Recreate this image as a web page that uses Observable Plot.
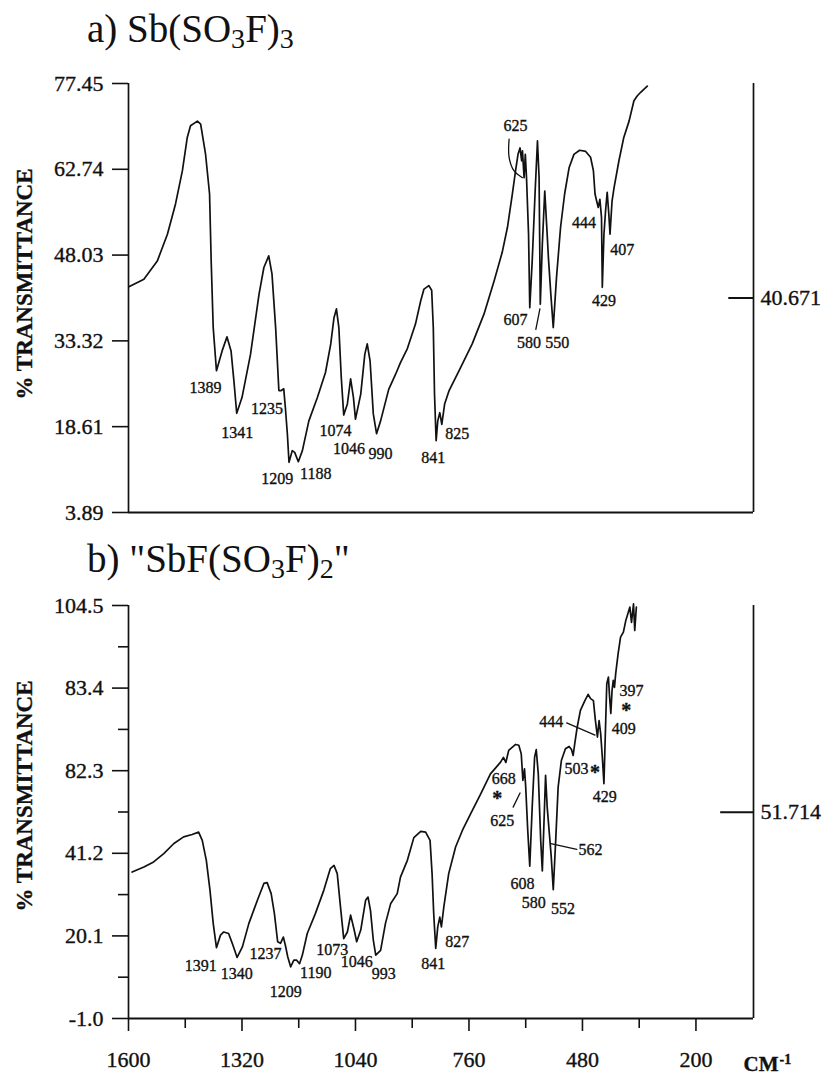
<!DOCTYPE html>
<html><head><meta charset="utf-8">
<script src="https://cdn.jsdelivr.net/npm/d3@7"></script>
<script src="https://cdn.jsdelivr.net/npm/@observablehq/plot@0.6"></script>
<style>
body{margin:0;background:#fff;}
#wrap{position:relative;width:824px;height:1082px;overflow:hidden;background:#fff;font-family:"Liberation Serif","DejaVu Serif",serif;color:#111;}
.title{position:absolute;left:87px;font-size:39px;line-height:1;white-space:nowrap;}
.title .s{font-size:0.72em;vertical-align:-0.2em;}
#ta{top:9px;}
#tb{top:539px;}
#pa{position:absolute;left:0;top:60px;}
#pb{position:absolute;left:0;top:585px;}
</style></head><body>
<div id="wrap">
<div class="title" id="ta">a) Sb(SO<span class="s">3</span>F)<span class="s">3</span></div>
<div class="title" id="tb">b) "SbF(SO<span class="s">3</span>F)<span class="s">2</span>"</div>
<div id="pa"></div><div id="pb"></div>
</div>
<script>
// ---------- axes ----------
const xDomain = [1600, 58];
const xMajorTicks = [1600, 1320, 1040, 760, 480, 200];
const xMinorTicks = [1460, 1180, 900, 620, 340];

const aTicks = [77.45, 62.74, 48.03, 33.32, 18.61, 3.89];
const aTickLabels = ["77.45", "62.74", "48.03", "33.32", "18.61", "3.89"];
const bTicks = [104.5, 83.4, 62.3, 41.2, 20.1, -1.0];
const bTickLabels = ["104.5", "83.4", "82.3", "41.2", "20.1", "-1.0"];
const bMinorTicks = [93.95, 72.85, 51.75, 30.65, 9.55];

// ---------- spectrum a) Sb(SO3F)3 ----------
const aWn = [1599,1562,1529,1504,1484,1467,1455,1447,1430,1422,
  1410,1400,1396,1391,1383,1369,1357,1347,1340,1333,
  1320,1299,1278,1266,1254,1246,1237,1229,1223,1217,
  1213,1208,1204,1196,1190,1181,1171,1155,1134,1114,
  1101,1093,1087,1081,1075,1069,1060,1052,1045,1040,
  1027,1017,1011,1004,996,988,978,958,941,929,
  912,892,879,871,859,852,848,845,841,837,
  832,827,820,809,781,752,723,698,678,665,
  653,645,639,634,630,628,624,621,618,613,
  610,604,597,591,587,584,579,573,568,564,
  558,552,544,534,524,513,501,487,472,460,
  453,449,445,441,437,433,431,427,423,419,
  415,412,407,402,390,378,365,353,345,337,
  328,320];
const aT = [42.6,43.9,47.0,51.6,56.8,62.5,68.2,70.2,71.0,70.5,
  65.4,58.5,47.0,35.6,28.2,31.6,34.0,31.6,26.5,20.9,
  23.6,31.0,41.3,45.9,47.9,44.8,35.6,24.8,24.8,25.1,
  21.9,17.3,12.5,14.5,14.2,12.6,14.5,19.6,23.6,27.9,
  32.8,37.3,38.8,35.6,27.0,20.6,22.5,26.8,23.6,19.9,
  24.2,31.0,32.8,29.9,20.8,17.4,19.6,25.0,27.6,29.6,
  32.0,36.2,40.2,42.2,42.8,42.0,35.6,24.2,16.2,19.6,
  21.0,19.0,22.5,24.8,28.7,32.8,37.9,43.6,48.5,52.8,
  58.5,62.5,65.3,66.4,64.2,65.9,61.3,65.3,61.3,51.6,
  39.0,47.0,58.5,67.6,61.3,39.6,49.9,59.0,52.8,47.6,
  41.3,35.6,44.2,52.8,58.5,63.0,65.3,66.0,65.8,64.8,
  62.5,58.5,57.3,56.2,57.6,54.5,42.5,51.6,55.6,58.8,
  55.1,51.6,57.3,59.6,64.2,68.2,71.0,74.5,75.3,75.9,
  76.5,77.0];

const aLabText = ["1389","1341","1235","1209","1188","1074","1046","990","841","825","625","607","580","550","444","407","429"];
const aLabWn = [1410,1332,1258,1233,1138,1089,1056,978,848,789,645,645,612,542,476,382,427];
const aLabT = [25.2,17.6,21.6,9.6,10.5,17.9,14.8,13.9,13.3,17.3,70.2,37.0,33.0,32.9,53.5,49.0,40.1];

const aLeaderId = ["625","625","625","625","580","580"];
const aLeaderWn = [661,661,649,628,585,595];
const aLeaderT = [67.9,64.8,62.5,61.3,38.8,35.3];

const aMarker = 40.671;
const aMarkerFrom = 119;

// ---------- spectrum b) "SbF(SO3F)2" ----------
const bWn = [1591,1562,1538,1513,1488,1464,1443,1427,1418,1408,
  1399,1391,1383,1373,1365,1353,1344,1332,1319,1303,
  1282,1266,1258,1248,1240,1232,1225,1218,1213,1207,
  1200,1192,1185,1178,1171,1159,1139,1118,1102,1093,
  1085,1077,1069,1060,1052,1044,1037,1027,1015,1009,
  1003,996,990,978,966,953,937,929,912,896,
  879,867,856,851,847,842,837,832,828,822,
  810,793,776,756,731,707,682,675,669,662,
  645,637,631,627,623,620,615,610,604,598,
  594,589,583,579,575,571,567,561,557,552,
  546,540,532,522,513,507,503,499,493,485,
  474,466,460,453,448,443,439,435,431,427,
  424,420,416,413,410,407,404,401,398,392,
  386,379,373,368,363,359,354,351,347];
const bT = [36.4,37.7,39.0,41.1,43.7,45.4,46.0,46.6,44.5,39.4,
  31.8,23.3,17.1,20.3,21.1,20.7,18.2,14.6,17.3,23.3,
  29.2,33.5,33.7,30.9,25.8,18.6,18.2,19.8,17.7,14.7,
  12.2,13.9,13.9,13.0,15.2,20.7,25.8,31.8,37.3,38.1,
  36.0,27.5,19.4,21.1,25.4,22.0,18.6,21.6,29.2,30.0,
  26.6,19.0,15.2,16.4,23.3,28.4,30.9,35.1,39.4,45.2,
  46.8,46.6,44.5,36.0,25.8,16.9,22.4,24.9,22.4,27.5,
  36.0,42.8,47.1,51.3,56.4,61.5,64.5,65.7,64.4,67.5,
  69.0,68.8,66.6,59.8,62.8,58.1,47.1,37.9,53.0,65.8,
  67.7,61.5,44.5,36.7,48.8,61.1,53.0,45.4,40.3,31.9,
  44.5,58.1,64.9,67.9,68.5,67.7,66.2,69.2,73.4,77.7,
  80.2,81.8,80.7,80.2,75.1,70.9,75.1,71.7,65.8,59.0,
  70.0,84.5,86.2,81.1,76.9,82.8,85.4,83.6,87.1,92.2,
  96.4,97.7,100.7,102.4,104.1,100.2,104.9,98.1,104.1];

const bLabText = ["1391","1340","1237","1209","1190","1073","1046","993","841","827","668","625","608","580","552","562","503","444","429","409","397"];
const bLabWn = [1422,1333,1262,1212,1138,1097,1037,970,848,789,674,678,628,600,528,460,495,557,425,378,359];
const bLabT = [12.4,10.5,15.4,5.8,10.7,16.6,13.5,10.5,12.9,18.6,60.1,49.6,33.5,28.5,27.1,42.0,62.8,74.7,55.6,73.0,82.6];

const bStarWn = [690,449,372];
const bStarT = [56.4,63.2,79.0];

const bLeaderId = ["625","625","562","562","444","444"];
const bLeaderWn = [651,634,558,494,519,449];
const bLeaderT = [53.0,56.6,43.7,42.2,74.5,71.4];

const bMarker = 51.714;
const bMarkerFrom = 139;

// ---------- build ----------
const FONT = '"Liberation Serif","DejaVu Serif",serif';
const INK = "#111";
const zip2 = (xs, ys) => xs.map((x, i) => ({wn: x, t: ys[i]}));
const zip3 = (ls, xs, ys) => xs.map((x, i) => ({label: ls[i], wn: x, t: ys[i]}));

function panel(o) {
  const fmt = new Map(o.ticks.map((t, i) => [t, o.tickLabels[i]]));
  const yMin = o.ticks[o.ticks.length - 1], yMax = o.ticks[0];
  const marks = [
    Plot.ruleX([xDomain[0], xDomain[1]], {y1: yMin, y2: yMax, stroke: INK, strokeWidth: 1.7}),
    Plot.ruleY([yMin], {x1: xDomain[0], x2: xDomain[1], stroke: INK, strokeWidth: 1.9}),
    Plot.axisY({ticks: o.ticks, tickFormat: d => fmt.get(d), tickSize: 16, tickPadding: 9,
      fontSize: 22, label: null, stroke: INK, strokeWidth: 1.6, fill: INK}),
    Plot.ruleY([o.marker], {x1: o.markerFrom, x2: xDomain[1], stroke: INK, strokeWidth: 2}),
    Plot.text([o.marker], {x: xDomain[1], y: d => d, text: d => String(d), dx: 7, textAnchor: "start", fontSize: 22, fill: INK}),
    Plot.text(["% TRANSMITTANCE"], {frameAnchor: "left", textAnchor: "middle", rotate: -90, dx: -104, dy: o.ylabelDy,
      fontSize: 23, fontWeight: "bold", fill: INK}),
    Plot.line(zip2(o.wn, o.t), {x: "wn", y: "t", stroke: INK, strokeWidth: 1.7, strokeLinejoin: "round"}),
    Plot.line(o.leaders, {x: "wn", y: "t", z: "label", stroke: INK, strokeWidth: 1.3, curve: "catmull-rom"}),
    Plot.text(o.labels, {x: "wn", y: "t", text: "label", fontSize: 16, fill: INK})
  ];
  if (o.minor) marks.push(Plot.axisY({ticks: o.minor, tickFormat: () => "", tickSize: 10, label: null, stroke: INK, strokeWidth: 1.6}));
  if (o.stars) marks.push(Plot.text(o.stars, {x: "wn", y: "t", text: () => "*", fontSize: 20, fontWeight: "bold", dy: 5, fill: INK}));
  if (o.xAxis) {
    marks.push(
      Plot.axisX({ticks: xMajorTicks, tickFormat: d => String(d), tickSize: 13, tickPadding: 20,
        fontSize: 22, label: null, stroke: INK, strokeWidth: 1.6, fill: INK}),
      Plot.axisX({ticks: xMinorTicks, tickFormat: () => "", tickSize: 10, label: null, stroke: INK, strokeWidth: 1.6}),
      Plot.text(["CM"], {frameAnchor: "bottom-right", dx: -10, dy: 52, textAnchor: "start", fontSize: 21, fontWeight: "bold", fill: INK}),
      Plot.text(["-1"], {frameAnchor: "bottom-right", dx: 26, dy: 45, textAnchor: "start", fontSize: 14, fontWeight: "bold", fill: INK})
    );
  }
  const svg = Plot.plot({
    width: 824, height: o.height,
    marginLeft: 128, marginRight: 71, marginTop: o.marginTop, marginBottom: o.marginBottom,
    x: o.xAxis ? {domain: xDomain} : {domain: xDomain, axis: null},
    y: {domain: [yMin, yMax]},
    style: {fontFamily: FONT, color: INK, background: "white", overflow: "visible"},
    marks
  });
  // slightly heavier print-like glyphs for the regular-weight labels
  d3.select(svg).selectAll("text").filter(function () {
    return getComputedStyle(this).fontWeight < 600;
  }).attr("stroke", INK).attr("stroke-width", 0.35);
  return svg;
}

document.getElementById("pa").append(panel({
  height: 472, marginTop: 23, marginBottom: 20,
  ticks: aTicks, tickLabels: aTickLabels,
  wn: aWn, t: aT,
  labels: zip3(aLabText, aLabWn, aLabT),
  leaders: zip3(aLeaderId, aLeaderWn, aLeaderT),
  marker: aMarker, markerFrom: aMarkerFrom,
  ylabelDy: -14, xAxis: false
}));

document.getElementById("pb").append(panel({
  height: 497, marginTop: 20, marginBottom: 64,
  ticks: bTicks, tickLabels: bTickLabels, minor: bMinorTicks,
  wn: bWn, t: bT,
  labels: zip3(bLabText, bLabWn, bLabT),
  leaders: zip3(bLeaderId, bLeaderWn, bLeaderT),
  stars: zip2(bStarWn, bStarT),
  marker: bMarker, markerFrom: bMarkerFrom,
  ylabelDy: -16, xAxis: true
}));
</script>
</body></html>
